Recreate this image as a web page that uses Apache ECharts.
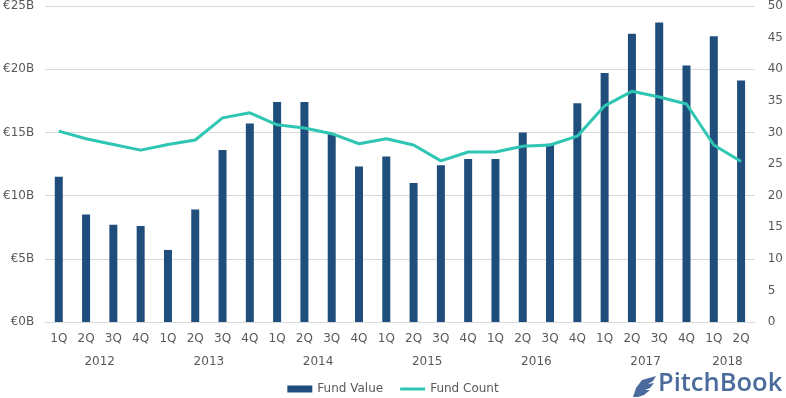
<!DOCTYPE html>
<html>
<head>
<meta charset="utf-8">
<script src="https://cdn.jsdelivr.net/npm/echarts@6/dist/echarts.min.js"></script>
<style>
html,body{margin:0;padding:0;background:#fff;}
#chart{width:786px;height:398px;}
</style>
</head>
<body>
<div id="chart"></div>
<script>
var quarters = ['1Q','2Q','3Q','4Q','1Q','2Q','3Q','4Q','1Q','2Q','3Q','4Q','1Q','2Q','3Q','4Q','1Q','2Q','3Q','4Q','1Q','2Q','3Q','4Q','1Q','2Q'];
var years = ['2012','2013','2014','2015','2016','2017','2018'];
var quartersPerYear = [4,4,4,4,4,4,2];
var fundValue = [11.5,8.5,7.7,7.6,5.7,8.9,13.6,15.7,17.4,17.4,14.9,12.3,13.1,11.0,12.4,12.9,12.9,15.0,14.1,17.3,19.7,22.8,23.7,20.3,22.6,19.1];
var fundCount = [30.2,29.0,28.1,27.2,28.1,28.8,32.3,33.1,31.2,30.7,29.8,28.2,29.0,28.0,25.5,26.9,26.9,27.8,28.0,29.4,34.2,36.5,35.6,34.5,28.0,25.4];
var leftTicks = {min:0, max:25, interval:5};
var rightTicks = {min:0, max:50, interval:5};

// year label positions (centre of each year's quarters, in quarter units)
var yearPos = {};
var acc = 0;
for (var i = 0; i < years.length; i++) {
  yearPos[acc + quartersPerYear[i] / 2] = years[i];
  acc += quartersPerYear[i];
}

var textColor = '#595959';
var font = 'DejaVu Sans';
var chart = echarts.init(document.getElementById('chart'), null, {renderer:'canvas'});
chart.setOption({
  animation:false,
  textStyle:{fontFamily:font},
  grid:{left:44, right:28, top:5, bottom:76, containLabel:false},
  legend:{
    bottom:-2, left:'center', itemGap:17, itemWidth:25, itemHeight:7,
    textStyle:{color:textColor, fontSize:12, fontFamily:font},
    data:[{name:'Fund Value', icon:'rect'},
          {name:'Fund Count', icon:'path://M0,0 L25,0 L25,3 L0,3 Z'}]
  },
  xAxis:[{
    type:'category', data:quarters, position:'bottom',
    axisLine:{show:true, lineStyle:{color:'#d9d9d9', width:1}},
    axisTick:{show:false},
    axisLabel:{color:textColor, fontSize:12, margin:11, interval:0, fontFamily:font}
  },{
    type:'value', min:0, max:quarters.length, interval:1, position:'bottom', offset:24,
    axisLine:{show:false}, axisTick:{show:false}, splitLine:{show:false},
    axisLabel:{color:textColor, fontSize:12, margin:10, fontFamily:font,
      formatter:function(v){ return yearPos[v] || ''; }}
  }],
  yAxis:[{
    type:'value', min:leftTicks.min, max:leftTicks.max, interval:leftTicks.interval,
    axisLine:{show:false}, axisTick:{show:false},
    splitLine:{lineStyle:{color:'#d9d9d9', width:1}},
    axisLabel:{color:textColor, fontSize:12, margin:11, fontFamily:font, formatter:'€{value}B'}
  },{
    type:'value', min:rightTicks.min, max:rightTicks.max, interval:rightTicks.interval,
    position:'right',
    axisLine:{show:false}, axisTick:{show:false}, splitLine:{show:false},
    axisLabel:{color:textColor, fontSize:12, margin:13, fontFamily:font}
  }],
  series:[{
    name:'Fund Value', type:'bar', data:fundValue, xAxisIndex:0, yAxisIndex:0,
    barWidth:8, itemStyle:{color:'#1f4e7d'}
  },{
    name:'Fund Count', type:'line', data:fundCount, xAxisIndex:0, yAxisIndex:1,
    symbol:'none', showSymbol:false, smooth:false,
    lineStyle:{color:'#2ec6b2', width:3}, itemStyle:{color:'#2ec6b2'}
  }],
  graphic:[{
    type:'polygon',
    shape:{points:[[633,397],[636,388],[642,380],[656,376],[653,381],[648,384],[654,383],[650,388],[645,390],[650,390],[644,395],[638,397]]},
    style:{fill:'#4a6b9c'}
  },{
    type:'text', left:658, top:371,
    style:{text:'PitchBook', fill:'#4a6b9c', font:'600 25.5px "Open Sans", "DejaVu Sans", sans-serif'}
  }]
});
</script>
</body>
</html>
